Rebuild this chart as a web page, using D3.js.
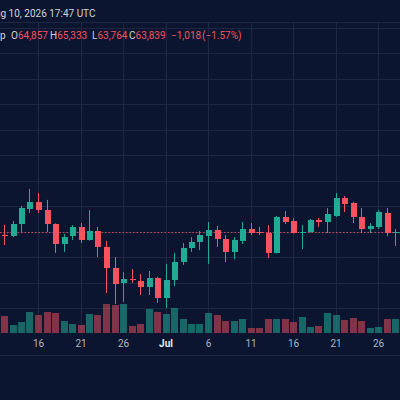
<!DOCTYPE html>
<html><head><meta charset="utf-8">
<script src="https://cdn.jsdelivr.net/npm/d3@7"></script>
<style>html,body{margin:0;padding:0;background:#0b1530;} svg{display:block}</style>
</head><body><svg id="c" width="400" height="400"></svg>
<script>
const dates = ["2026-06-12","2026-06-13","2026-06-14","2026-06-15","2026-06-16","2026-06-17","2026-06-18","2026-06-19","2026-06-20","2026-06-21","2026-06-22","2026-06-23","2026-06-24","2026-06-25","2026-06-26","2026-06-27","2026-06-28","2026-06-29","2026-06-30",
"2026-07-01","2026-07-02","2026-07-03","2026-07-04","2026-07-05","2026-07-06","2026-07-07","2026-07-08","2026-07-09","2026-07-10","2026-07-11","2026-07-12","2026-07-13","2026-07-14","2026-07-15","2026-07-16","2026-07-17","2026-07-18","2026-07-19","2026-07-20","2026-07-21","2026-07-22","2026-07-23","2026-07-24","2026-07-25","2026-07-26","2026-07-27","2026-07-28","2026-07-29"];
const opens = [63880,63820,64290,64880,65160,64840,64290,63510,63820,64180,63670,64020,63390,62570,61980,62120,62060,61820,62180,
61390,62100,62800,63350,63590,63830,64060,63710,63200,63630,64100,63990,63940,63160,64570,64410,63960,63980,64450,64370,64610,65310,65120,64570,64100,64180,64730,63960,63670];
const highs = [64260,64410,65000,65670,65510,65240,64320,63900,64250,64330,64840,64180,63630,63000,62410,62530,62330,62450,62220,
62730,63160,63550,63780,64020,64370,64220,63860,63780,64370,64330,64180,64250,64610,64800,64530,64250,64490,64530,64920,65510,65390,65160,64920,64330,64840,64920,64100,64570];
const lows = [63470,63780,63940,64730,64730,63980,63160,63200,63670,63550,63640,63000,61590,61160,61240,61980,61510,61510,61200,
61000,61860,62690,63200,63270,62730,63390,62800,62920,63510,63860,63860,62960,63140,64290,63920,63310,63960,64180,63940,64570,64760,64330,63940,63940,64100,63820,63430,63600];
const closes = [63850,64290,64920,65160,64840,64290,63510,63780,64180,63670,64020,63390,62570,61940,62140,62090,61820,62180,61390,
62100,62800,63350,63590,63860,64060,63710,63200,63670,64100,63940,63960,63160,64570,64370,63940,63990,64450,64370,64690,65310,65080,64570,64100,64220,64770,63940,63990,64370];
const volumes = [17000,8000,11000,21000,18000,21000,20000,12000,9000,8000,19000,18000,29000,28000,29000,7000,9000,24000,21000,
19000,25000,14000,9000,9000,20000,18000,12000,12000,14000,5000,5000,14000,14000,14000,11000,16000,6000,7000,20000,18000,13000,15000,12000,5000,6000,14000,14000,16000];
const tickDates = ["2026-06-16","2026-06-21","2026-06-26","2026-07-01","2026-07-06","2026-07-11","2026-07-16","2026-07-21","2026-07-26"];
const priceTicks = [61000,62000,63000,64000,65000,66000,67000,68000,69000,70000,71000,72000];
const lastPrice = 63980;
const headerDate = "Aug 10, 2026 17:47 UTC";
const headerPrefix = "p";
const ohlcLabels = ["O","H","L","C"];
const ohlcValues = ["64,857","65,333","63,764","63,839"];
const changeTexts = ["\u22121,018","(\u22121.57%)"];

const W = 400, H = 400;
const BG = "#0b1530", GRID = "#1c2741", UP = "#22ab94", DOWN = "#f7525f";
const UPV = "rgba(34,171,148,0.55)", DOWNV = "rgba(247,82,95,0.5)";
const TXT = "#d1d4dc", AX = "#b2b5be";
const FONT = "Roboto, 'Noto Sans', sans-serif";

const svg = d3.select("#c");
svg.append("rect").attr("width", W).attr("height", H).attr("fill", BG);

const parse = d => new Date(d + "T00:00:00Z");
const x = d3.scaleUtc().domain([parse("2026-06-16"), parse("2026-07-26")]).range([38, 378]);
const y = d3.scaleLinear().domain([60000, 68000]).range([333.5, 129.5]);
const yv = d3.scaleLinear().domain([0, 30000]).range([333, 303]);

const data = dates.map((d, i) => ({ date: parse(d), o: opens[i], h: highs[i], l: lows[i], c: closes[i], v: volumes[i] }));

// grid
const g = svg.append("g");
g.selectAll("line.h").data(priceTicks).join("line")
  .attr("x1", 0).attr("x2", W)
  .attr("y1", d => Math.round(y(d)) + 0.5).attr("y2", d => Math.round(y(d)) + 0.5)
  .attr("stroke", GRID).attr("stroke-width", 1);
g.append("line").attr("x1", 0).attr("x2", W).attr("y1", 22.5).attr("y2", 22.5).attr("stroke", GRID);
g.selectAll("line.v").data(tickDates).join("line")
  .attr("x1", d => Math.round(x(parse(d))) + 0.5).attr("x2", d => Math.round(x(parse(d))) + 0.5)
  .attr("y1", 22).attr("y2", 333)
  .attr("stroke", GRID).attr("stroke-width", 1);
g.append("line").attr("x1", 0).attr("x2", W).attr("y1", 355.5).attr("y2", 355.5).attr("stroke", GRID);

// volume
svg.append("g").selectAll("rect").data(data).join("rect")
  .attr("shape-rendering", "crispEdges")
  .attr("x", d => Math.round(x(d.date)) - 3)
  .attr("width", 7)
  .attr("y", d => yv(d.v))
  .attr("height", d => yv(0) - yv(d.v))
  .attr("fill", d => d.c >= d.o ? UPV : DOWNV);

// price line
svg.append("line")
  .attr("x1", 0).attr("x2", W)
  .attr("y1", Math.round(y(lastPrice)) + 0.5).attr("y2", Math.round(y(lastPrice)) + 0.5)
  .attr("stroke", DOWN).attr("stroke-opacity", 0.8).attr("stroke-dasharray", "1.5,2");

// candles
const cg = svg.append("g").selectAll("g").data(data).join("g");
cg.append("line")
  .attr("x1", d => Math.round(x(d.date)) + 0.5).attr("x2", d => Math.round(x(d.date)) + 0.5)
  .attr("y1", d => y(d.h)).attr("y2", d => y(d.l))
  .attr("stroke", d => d.c >= d.o ? UP : DOWN).attr("stroke-width", 1);
cg.append("rect")
  .attr("shape-rendering", "crispEdges")
  .attr("x", d => Math.round(x(d.date)) - 2.5)
  .attr("width", 6)
  .attr("y", d => y(Math.max(d.o, d.c)))
  .attr("height", d => Math.max(1, Math.abs(y(d.o) - y(d.c))))
  .attr("fill", d => d.c >= d.o ? UP : DOWN);

// time axis
const axis = d3.axisBottom(x)
  .tickValues(tickDates.map(parse))
  .tickSize(0).tickPadding(6)
  .tickFormat(d => d.getUTCDate() === 1 ? d3.utcFormat("%b")(d) : d3.utcFormat("%-d")(d));
const ax = svg.append("g").attr("transform", "translate(0,334)").call(axis);
ax.select(".domain").remove();
ax.selectAll("text")
  .attr("font-family", FONT).attr("font-size", 10)
  .attr("fill", d => d.getUTCDate() === 1 ? "#e6e8ee" : AX)
  .attr("font-weight", d => d.getUTCDate() === 1 ? "bold" : "normal");

// header
const ht = svg.append("text").attr("font-family", FONT).attr("font-size", 10).attr("fill", TXT)
  .attr("y", 17).text("Au");
const auW = ht.node().getComputedTextLength();
ht.text(headerDate).attr("x", -auW + 0.5);

const hl = svg.append("g").attr("font-family", FONT).attr("font-size", 10);
hl.append("text").attr("x", 0).attr("y", 39).attr("fill", TXT).text(headerPrefix);
const lx = [11, 50, 92, 129];
ohlcLabels.forEach((lab, i) => {
  const t = hl.append("text").attr("x", lx[i]).attr("y", 39);
  t.append("tspan").attr("fill", TXT).text(lab);
  t.append("tspan").attr("fill", DOWN).text(ohlcValues[i]);
});
hl.append("text").attr("x", 171).attr("y", 39).attr("fill", DOWN).text(changeTexts[0]);
hl.append("text").attr("x", 202).attr("y", 39).attr("fill", DOWN).text(changeTexts[1]);
</script>
</body></html>
